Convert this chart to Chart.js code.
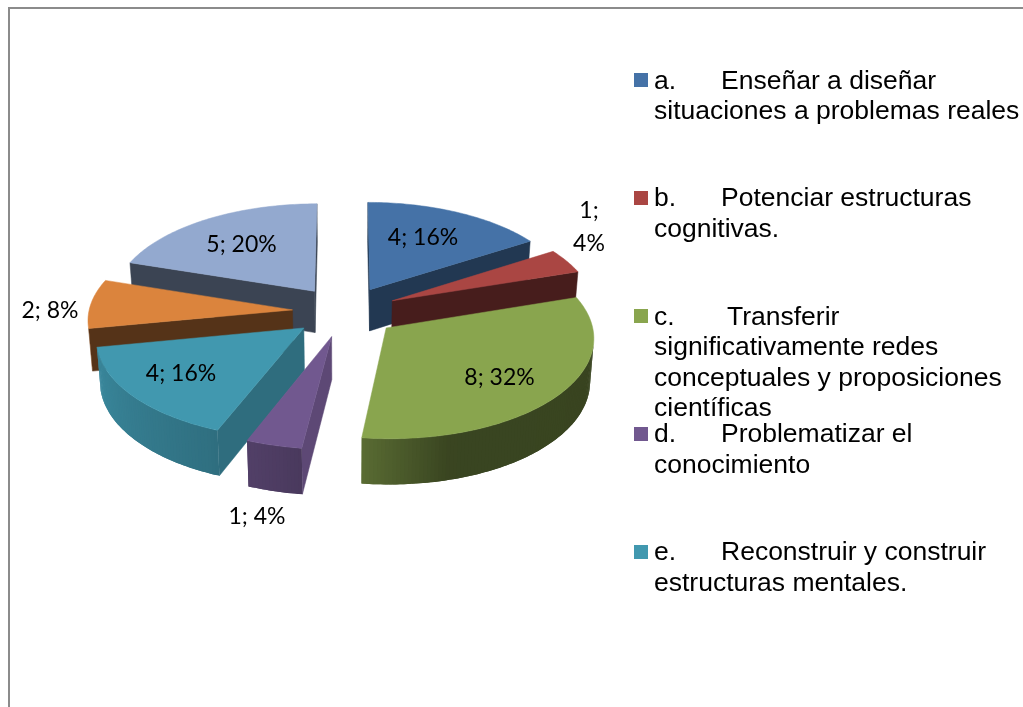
<!DOCTYPE html>
<html>
<head>
<meta charset="utf-8">
<style>
html,body{margin:0;padding:0;background:#fff;overflow:hidden}
#wrap{position:relative;width:1023px;height:707px}
#frameTop{position:absolute;left:8px;top:7px;width:1015px;height:2px;background:#8b8b8b}
#frameLeft{position:absolute;left:8px;top:7px;width:2px;height:700px;background:#8b8b8b}
canvas{position:absolute;left:0;top:0}
</style>
<script src="https://cdn.jsdelivr.net/npm/chart.js@4/dist/chart.umd.min.js"></script>
</head>
<body>
<div id="wrap">
<canvas id="c" width="1023" height="707"></canvas>
<div id="frameTop"></div><div id="frameLeft"></div>
</div>
<script>
const categories = [
  'a. Enseñar a diseñar situaciones a problemas reales',
  'b. Potenciar estructuras cognitivas.',
  'c. Transferir significativamente redes conceptuales y proposiciones científicas',
  'd. Problematizar el conocimiento',
  'e. Reconstruir y construir estructuras mentales.',
  'f.',
  'g.'
];
const values = [4, 1, 8, 1, 4, 2, 5];
const percents = [16, 4, 32, 4, 16, 8, 20];
const sliceColors = ['#4572A7', '#AA4643', '#89A54E', '#71588F', '#4198AF', '#DB843D', '#93A9CF'];
const wallShade = [0.49, 0.42, 0.5, 0.82, 0.72, 0.39, 0.4];
const drawOrder = [6, 0, 5, 1, 4, 2, 3];

const labelAnchors = [[423,238],[589,227],[499.5,378],[257,517],[181,374],[50,311],[241.5,245]];
const legendEntries = [
  {i:0, box:73,  lines:[['a.','Enseñar a diseñar',721,89],['situaciones a problemas reales',null,0,119]]},
  {i:1, box:191, lines:[['b.','Potenciar estructuras',721,206],['cognitivas.',null,0,237]]},
  {i:2, box:309, lines:[['c.','Transferir',727,325],['significativamente redes',null,0,355],['conceptuales y proposiciones',null,0,386],['científicas',null,0,416]]},
  {i:3, box:427, lines:[['d.','Problematizar el',721,442],['conocimiento',null,0,473]]},
  {i:4, box:545, lines:[['e.','Reconstruir y construir',721,560],['estructuras mentales.',null,0,591]]}
];

const P = 0.000427, K = 0.489, XS = 1.013, DROP = 42, DROP_Y = 0.016, LOW = 0.985;
function project(cx, cy, X, Y, low) {
  const s = 1 / (1 - P * Y);
  let x = cx + XS * X * s, y = cy + K * Y * s;
  if (low) { x = cx + (x - cx) * LOW; y += DROP + DROP_Y * Y; }
  return [x, y];
}
function hexRgb(h) { return [1,3,5].map(i => parseInt(h.substr(i,2),16)); }
function shade(h, m) { const c = hexRgb(h); return `rgb(${c.map(v => Math.round(v*m)).join(',')})`; }
const curveStops = [[0,.4],[165,.42],[187,.65],[205,.74],[260,.9],[360,.6]];
function curveShade(thetaDeg) {
  let t = ((thetaDeg % 360) + 360) % 360;
  for (let i = 1; i < curveStops.length; i++) {
    const a = curveStops[i-1], b = curveStops[i];
    if (t <= b[0]) return a[1] + (b[1]-a[1]) * (t-a[0]) / (b[0]-a[0]);
  }
  return .6;
}
function tracePoly(ctx, pts) {
  ctx.beginPath();
  pts.forEach((p, i) => i ? ctx.lineTo(p[0], p[1]) : ctx.moveTo(p[0], p[1]));
  ctx.closePath();
}
function fillPoly(ctx, pts, color, outline) {
  tracePoly(ctx, pts);
  ctx.fillStyle = color;
  ctx.fill();
  if (outline) { ctx.strokeStyle = color; ctx.lineWidth = 0.5; ctx.stroke(); }
}
function signedArea(q) {
  let a = 0;
  for (let i = 0; i < q.length; i++) {
    const p = q[i], n = q[(i+1) % q.length];
    a += p[0]*n[1] - n[0]*p[1];
  }
  return a / 2;
}

const pie3d = {
  id: 'pie3d',
  beforeDatasetsDraw(chart) {
    const ctx = chart.ctx, meta = chart.getDatasetMeta(0);
    ctx.save();
    drawOrder.forEach(idx => {
      const arc = meta.data[idx], color = sliceColors[idx];
      const off = arc.options.offset, r = arc.outerRadius;
      const a0 = arc.startAngle, a1 = arc.endAngle, mid = (a0 + a1) / 2;
      const ox = Math.cos(mid) * off, oy = Math.sin(mid) * off;
      const cx = arc.x, cy = arc.y;
      const n = Math.max(2, Math.ceil((a1 - a0) * 180 / Math.PI));
      const plane = [[ox, oy]];
      for (let i = 0; i <= n; i++) {
        const a = a0 + (a1 - a0) * i / n;
        plane.push([ox + r * Math.cos(a), oy + r * Math.sin(a)]);
      }
      const m = plane.length;
      // flat radial walls first
      [[0, 1], [m - 1, 0]].forEach(([i, j]) => {
        const A = plane[i], B = plane[j];
        const q = [project(cx,cy,A[0],A[1],false), project(cx,cy,B[0],B[1],false),
                   project(cx,cy,B[0],B[1],true),  project(cx,cy,A[0],A[1],true)];
        if (signedArea(q) < 0) fillPoly(ctx, q, shade(color, wallShade[idx]), true);
      });
      // curved wall: each strip overlaps the next so no seams show
      for (let i = 1; i < m - 1; i++) {
        const A = plane[i], B = plane[i + 1], C = plane[Math.min(i + 2, m - 1)];
        const q = [project(cx,cy,A[0],A[1],false), project(cx,cy,B[0],B[1],false),
                   project(cx,cy,B[0],B[1],true),  project(cx,cy,A[0],A[1],true)];
        if (signedArea(q) >= 0) continue;
        const a = a0 + (a1 - a0) * (i - 0.5) / n;
        const full = [project(cx,cy,A[0],A[1],false), project(cx,cy,B[0],B[1],false), project(cx,cy,C[0],C[1],false),
                      project(cx,cy,C[0],C[1],true), project(cx,cy,B[0],B[1],true), project(cx,cy,A[0],A[1],true)];
        fillPoly(ctx, full, shade(color, curveShade(a * 180 / Math.PI + 90)), false);
      }
      fillPoly(ctx, plane.map(p => project(cx,cy,p[0],p[1],false)), color, true);
    });
    ctx.restore();
    return false;
  },
  afterDraw(chart) {
    const ctx = chart.ctx;
    ctx.save();
    ctx.fillStyle = '#000';
    ctx.textAlign = 'center';
    ctx.textBaseline = 'middle';
    ctx.font = '23px Lato, Carlito, sans-serif';
    values.forEach((v, i) => {
      const t = `${v}; ${percents[i]}%`, [x, y] = labelAnchors[i];
      if (i === 1) {
        ctx.fillText(`${v};`, x, y - 16);
        ctx.fillText(`${percents[i]}%`, x, y + 17);
      } else ctx.fillText(t, x, y);
    });
    ctx.textAlign = 'left';
    ctx.textBaseline = 'alphabetic';
    ctx.font = '26.5px "Liberation Sans", Arial, sans-serif';
    legendEntries.forEach(e => {
      ctx.fillStyle = sliceColors[e.i];
      ctx.fillRect(634, e.box, 14, 14);
      ctx.fillStyle = '#000';
      e.lines.forEach(l => {
        ctx.fillText(l[0], 654, l[3]);
        if (l[1]) ctx.fillText(l[1], l[2], l[3]);
      });
    });
    ctx.restore();
  }
};

new Chart(document.getElementById('c'), {
  type: 'pie',
  data: {
    labels: categories,
    datasets: [{ data: values, backgroundColor: sliceColors, borderWidth: 0, offset: 52 }]
  },
  options: {
    responsive: false,
    animation: false,
    layout: { padding: { left: 118, right: 451, top: 84.5, bottom: 168.5 } },
    plugins: { legend: { display: false }, tooltip: { enabled: false }, title: { display: false } }
  },
  plugins: [pie3d]
});
</script>
</body>
</html>
